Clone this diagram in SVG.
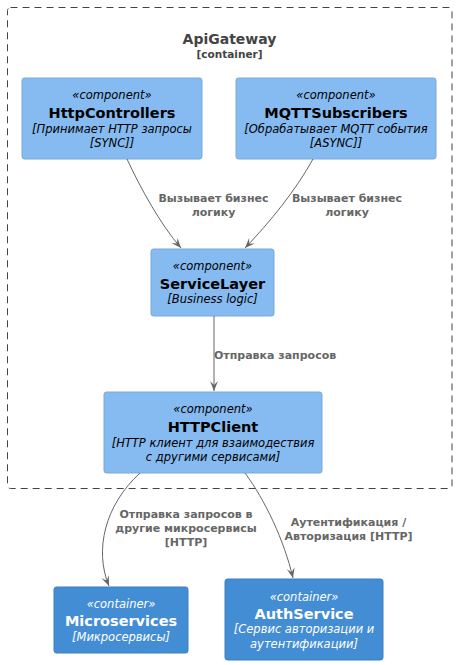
<svg xmlns="http://www.w3.org/2000/svg" width="457" height="665" viewBox="0 0 457 665">
<style>
text{font-family:"DejaVu Sans","Liberation Sans",sans-serif;text-anchor:middle}
.comp rect{fill:#85BBF0;stroke:#78A8D8;stroke-width:1}
.cont rect{fill:#438DD5;stroke:#3C7FC0;stroke-width:1}
.comp text{fill:#000000}
.cont text{fill:#FFFFFF}
.st{font-size:11.5px;font-style:italic}
.nm{font-size:14.5px;font-weight:bold}
.ds{font-size:11.5px;font-style:italic}
.lbl{font-size:11px;font-weight:bold;fill:#666666}
.edge{fill:none;stroke:#666666;stroke-width:1}
</style>
<defs>
<marker id="arr" markerUnits="userSpaceOnUse" markerWidth="11" markerHeight="9" refX="10" refY="4" orient="auto">
<path d="M0,0 L10,4 L0,8 L4,4 Z" fill="#666666"/>
</marker>
</defs>
<g id="boundary">
<rect x="7.5" y="7.5" width="444.5" height="481" rx="3" fill="none" stroke="#444444" stroke-width="1" stroke-dasharray="7,5"/>
<text x="229.5" y="44" style="font-size:14px;font-weight:bold" fill="#444444">ApiGateway</text>
<text x="229.5" y="58" style="font-size:10.5px;font-weight:bold" fill="#444444">[container]</text>
</g>
<g id="HttpControllers" class="comp">
<rect x="22" y="78" width="180" height="81" rx="2.5"/>
<text class="st" x="112" y="99">«component»</text>
<text class="nm" x="112" y="118">HttpControllers</text>
<text class="ds" x="112" y="133">[Принимает HTTP запросы</text>
<text class="ds" x="112" y="147">[SYNC]]</text>
</g>
<g id="MQTTSubscribers" class="comp">
<rect x="236" y="78" width="200" height="81" rx="2.5"/>
<text class="st" x="336" y="99">«component»</text>
<text class="nm" x="336" y="118">MQTTSubscribers</text>
<text class="ds" x="336" y="133">[Обрабатывает MQTT события</text>
<text class="ds" x="336" y="147">[ASYNC]]</text>
</g>
<g id="ServiceLayer" class="comp">
<rect x="151" y="249" width="123" height="67" rx="2.5"/>
<text class="st" x="212.5" y="270">«component»</text>
<text class="nm" x="212.5" y="289">ServiceLayer</text>
<text class="ds" x="212.5" y="303">[Business logic]</text>
</g>
<g id="HTTPClient" class="comp">
<rect x="104" y="392" width="218" height="81" rx="2.5"/>
<text class="st" x="213" y="413">«component»</text>
<text class="nm" x="213" y="432">HTTPClient</text>
<text class="ds" x="213" y="447">[HTTP клиент для взаимодествия</text>
<text class="ds" x="213" y="461">с другими сервисами]</text>
</g>
<g id="Microservices" class="cont">
<rect x="54" y="587" width="134" height="66" rx="2.5"/>
<text class="st" x="121" y="608">«container»</text>
<text class="nm" x="121" y="626">Microservices</text>
<text class="ds" x="121" y="641">[Микросервисы]</text>
</g>
<g id="AuthService" class="cont">
<rect x="225" y="579" width="158" height="81" rx="2.5"/>
<text class="st" x="304" y="601">«container»</text>
<text class="nm" x="304" y="619">AuthService</text>
<text class="ds" x="304" y="633">[Сервис авторизации и</text>
<text class="ds" x="304" y="648">аутентификации]</text>
</g>
<g id="connectors">
<path class="edge" d="M127,159 C140,187 160,224 181,248" marker-end="url(#arr)"/>
<text class="lbl" x="213.5" y="202">Вызывает бизнес</text>
<text class="lbl" x="213.5" y="216">логику</text>
<path class="edge" d="M313,159 C296,190 270,222 245,248" marker-end="url(#arr)"/>
<text class="lbl" x="347" y="202">Вызывает бизнес</text>
<text class="lbl" x="347" y="216">логику</text>
<path class="edge" d="M214,316 L214,391" marker-end="url(#arr)"/>
<text class="lbl" x="214" y="359" style="text-anchor:start">Отправка запросов</text>
<path class="edge" d="M140,473 C105,505 94,550 109,586" marker-end="url(#arr)"/>
<text class="lbl" x="186" y="518">Отправка запросов в</text>
<text class="lbl" x="186" y="532">другие микросервисы</text>
<text class="lbl" x="186" y="546">[HTTP]</text>
<path class="edge" d="M245,473 C265,500 284,540 293,578" marker-end="url(#arr)"/>
<text class="lbl" x="348.5" y="526">Аутентификация /</text>
<text class="lbl" x="348.5" y="540">Авторизация [HTTP]</text>
</g>
</svg>
